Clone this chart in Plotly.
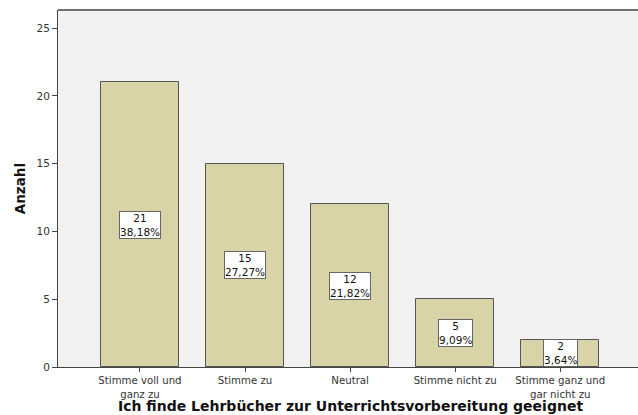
import plotly.graph_objects as go

categories = ["Stimme voll und<br>ganz zu", "Stimme zu", "Neutral", "Stimme nicht zu", "Stimme ganz und<br>gar nicht zu"]
counts = [21, 15, 12, 5, 2]
percents = ["38,18%", "27,27%", "21,82%", "9,09%", "3,64%"]
y_ticks = [0, 5, 10, 15, 20, 25]

fig = go.Figure()
fig.add_trace(go.Bar(
    x=list(range(len(categories))), y=counts,
    width=0.745,
    marker=dict(color="#d9d4a7", line=dict(color="#555555", width=1)),
    hoverinfo="skip",
))

for i, (c, p) in enumerate(zip(counts, percents)):
    fig.add_annotation(
        x=i, y=c / 2, text=f"{c}<br>{p}", showarrow=False,
        font=dict(family="DejaVu Sans", size=10.5, color="#111111"),
        bgcolor="white", bordercolor="#666666", borderwidth=1, borderpad=0,
    )

fig.add_annotation(
    xref="paper", yref="paper", x=0.504, y=-0.108, yanchor="middle", showarrow=False,
    text="<b>Ich finde Lehrbücher zur Unterrichtsvorbereitung geeignet</b>",
    font=dict(family="DejaVu Sans", size=14, color="#111111"),
)
fig.add_annotation(
    xref="paper", yref="paper", x=-0.066, y=0.5, xanchor="center", showarrow=False,
    text="<b>Anzahl</b>", textangle=-90,
    font=dict(family="DejaVu Sans", size=13.5, color="#111111"),
)

fig.update_layout(
    width=638, height=415,
    margin=dict(l=58, r=0, t=10, b=48),
    paper_bgcolor="white", plot_bgcolor="#f2f2f2",
    font=dict(family="DejaVu Sans", size=10, color="#333333"),
    showlegend=False,
    bargap=0,
)
fig.update_xaxes(
    range=[-0.78, 4.74], tickmode="array", tickvals=list(range(len(categories))), ticktext=categories,
    ticks="outside", ticklen=4, tickcolor="#444444",
    showline=True, linecolor="#444444", linewidth=1, mirror=False,
    showgrid=False, zeroline=False, automargin=False,
    tickfont=dict(size=10.2),
)
fig.update_yaxes(
    range=[0, 26.33], tickmode="array", tickvals=y_ticks,
    ticks="outside", ticklen=5, tickcolor="#444444",
    showline=True, linecolor="#444444", linewidth=1,
    showgrid=False, zeroline=False, automargin=False,
    tickfont=dict(size=10.5),
)
fig.add_shape(type="line", xref="paper", yref="paper", x0=0, x1=1, y0=1, y1=1,
              line=dict(color="#444444", width=1.5))

fig.write_html("out.html", config={"displayModeBar": False},
               post_script="document.body.style.margin='0px';")
